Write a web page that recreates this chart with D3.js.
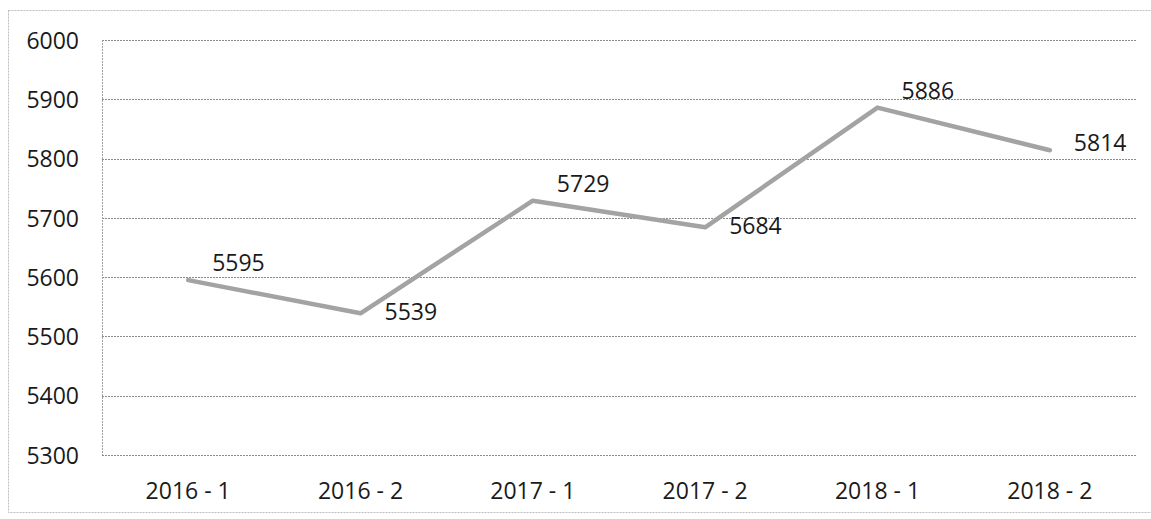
<!DOCTYPE html>
<html>
<head>
<meta charset="utf-8">
<script src="https://cdn.jsdelivr.net/npm/d3@7"></script>
<style>
  html, body { margin: 0; padding: 0; background: #fff; }
  svg { display: block; }
  text { font-family: "Open Sans", "Noto Sans", sans-serif; fill: #1a1a1a; }
</style>
</head>
<body>
<svg id="chart" width="1151" height="519"></svg>
<script>
const categories = ["2016 - 1", "2016 - 2", "2017 - 1", "2017 - 2", "2018 - 1", "2018 - 2"];
const values = [5595, 5539, 5729, 5684, 5886, 5814];
const yTicks = [5300, 5400, 5500, 5600, 5700, 5800, 5900, 6000];

const svg = d3.select("#chart");
const W = 1151, H = 519;
const plot = { left: 102, right: 1136, top: 40, bottom: 455 };

// outer chart border
svg.append("rect")
  .attr("x", 8.5).attr("y", 10.5)
  .attr("width", W - 8).attr("height", 502)
  .attr("fill", "none")
  .attr("stroke", "#bdbdbd")
  .attr("stroke-width", 1)
  .attr("stroke-dasharray", "2,1");

const x = d3.scaleBand().domain(categories).range([plot.left, plot.right]);
const y = d3.scaleLinear().domain([5300, 6000]).range([plot.bottom, plot.top]);

// gridlines
svg.append("g").selectAll("line").data(yTicks).join("line")
  .attr("x1", plot.left).attr("x2", plot.right)
  .attr("y1", d => Math.round(y(d)) + 0.5).attr("y2", d => Math.round(y(d)) + 0.5)
  .attr("stroke", "#8a8a8a")
  .attr("stroke-width", 1)
  .attr("stroke-dasharray", "2,1");

// left plot border
svg.append("line")
  .attr("x1", plot.left + 0.5).attr("x2", plot.left + 0.5)
  .attr("y1", plot.top).attr("y2", plot.bottom)
  .attr("stroke", "#a0a0a0")
  .attr("stroke-width", 1)
  .attr("stroke-dasharray", "2,1");

// y axis labels
const yAxis = d3.axisLeft(y).tickValues(yTicks).tickSize(0).tickPadding(0).tickFormat(d3.format("d"));
const gy = svg.append("g").attr("transform", "translate(79,0)").call(yAxis);
gy.select(".domain").remove();
gy.selectAll("text")
  .style("font-family", '"Open Sans", "Noto Sans", sans-serif')
  .style("font-size", "23px")
  .attr("fill", "#1a1a1a")
  .attr("dy", "0.36em");

// x axis labels
const xAxis = d3.axisBottom(x).tickSize(0).tickPadding(0);
const gx = svg.append("g").attr("transform", "translate(0,491)").call(xAxis);
gx.select(".domain").remove();
gx.selectAll("text")
  .style("font-family", '"Open Sans", "Noto Sans", sans-serif')
  .style("font-size", "23px")
  .attr("fill", "#1a1a1a")
  .attr("dy", "0.36em");

// line
const pts = categories.map((c, i) => ({ c, v: values[i], i }));
const line = d3.line().x(d => x(d.c) + x.bandwidth() / 2).y(d => y(d.v));
svg.append("path")
  .datum(pts)
  .attr("d", line)
  .attr("fill", "none")
  .attr("stroke", "#a3a3a3")
  .attr("stroke-width", 4.5)
  .attr("stroke-linejoin", "round")
  .attr("stroke-linecap", "round");

// data labels: placed to the right; raised when the line descends to the right
svg.append("g").selectAll("text").data(pts).join("text")
  .attr("x", d => x(d.c) + x.bandwidth() / 2 + 24)
  .attr("y", d => {
    const py = y(d.v);
    const next = values[d.i + 1];
    if (next === undefined) return py + 1;
    return next < d.v ? py - 9 : py + 7;
  })
  .style("font-size", "23px")
  .text(d => d.v);
</script>
</body>
</html>
